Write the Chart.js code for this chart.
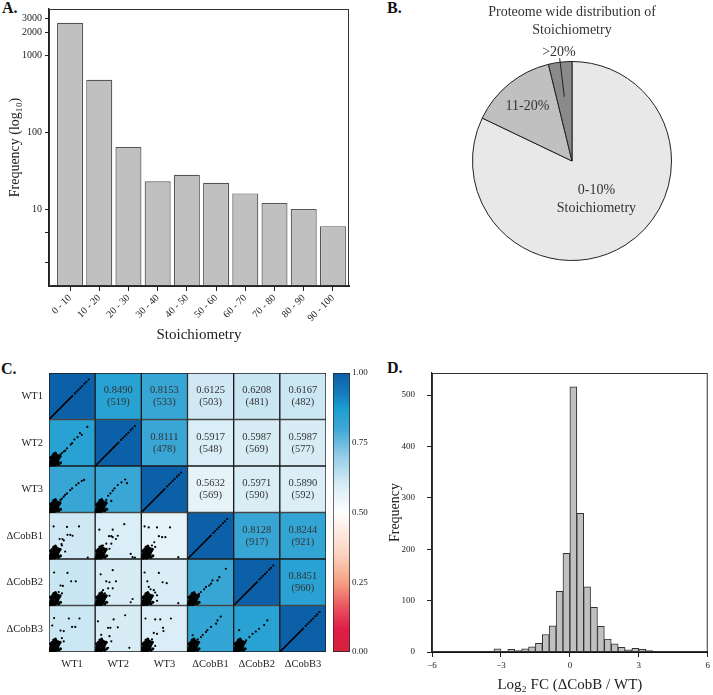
<!DOCTYPE html>
<html>
<head>
<meta charset="utf-8">
<script src="https://cdn.jsdelivr.net/npm/chart.js@4.4.1/dist/chart.umd.min.js"></script>
<style>
  body { margin: 0; background: #fff; width: 713px; height: 695px; position: relative; overflow: hidden; }
  canvas { position: absolute; }
  .tag { position: absolute; font: bold 16px "Liberation Serif", serif; line-height: 16px; color: #111; }
</style>
</head>
<body>
<div class="tag" style="left:2px;top:0px">A.</div>
<div class="tag" style="left:387px;top:0px">B.</div>
<div class="tag" style="left:1px;top:361px">C.</div>
<div class="tag" style="left:387px;top:360px">D.</div>

<canvas id="cA" width="360" height="345" style="left:0;top:0"></canvas>
<canvas id="cB" width="353" height="330" style="left:360px;top:0"></canvas>
<canvas id="cC" width="330" height="345" style="left:0;top:350px"></canvas>
<canvas id="cBar" width="40" height="345" style="left:333px;top:350px"></canvas>
<canvas id="cD" width="353" height="345" style="left:360px;top:350px"></canvas>

<script>
// --- A: stoichiometry bins (log scale) ---
const stoichBins = ['0 - 10', '10 - 20', '20 - 30', '30 - 40', '40 - 50', '50 - 60', '60 - 70', '70 - 80', '80 - 90', '90 - 100'];
const stoichFreq = [2650, 480, 64, 23, 28, 22, 16, 12, 10, 6];
const logTicks = [2, 5, 10, 100, 1000, 2000, 3000];
const logLabels = [10, 100, 1000, 2000, 3000];

// --- B: pie ---
const pieLabels = ['0-10%', '11-20%', '>20%'];
const pieShares = [82.1, 14.1, 3.8];

// --- C: correlation matrix ---
const samples = ['WT1', 'WT2', 'WT3', 'ΔCobB1', 'ΔCobB2', 'ΔCobB3'];
const corrValues = [
  [1, 0.8490, 0.8153, 0.6125, 0.6208, 0.6167],
  [0.8490, 1, 0.8111, 0.5917, 0.5987, 0.5987],
  [0.8153, 0.8111, 1, 0.5632, 0.5971, 0.5890],
  [0.6125, 0.5917, 0.5632, 1, 0.8128, 0.8244],
  [0.6208, 0.5987, 0.5971, 0.8128, 1, 0.8451],
  [0.6167, 0.5987, 0.5890, 0.8244, 0.8451, 1]
];
const pairCounts = [
  [null, 519, 533, 503, 481, 482],
  [null, null, 478, 548, 569, 577],
  [null, null, null, 569, 590, 592],
  [null, null, null, null, 917, 921],
  [null, null, null, null, null, 960],
  [null, null, null, null, null, null]
];
const colorbarTicks = [0, 0.25, 0.5, 0.75, 1];

// points inside each lower cell, as fractions of the cell (u right, v up)
const cellScatter = {
  '1,0': [[0.83,0.84],[0.67,0.71],[0.71,0.67],[0.62,0.62],[0.55,0.57],[0.50,0.49],[0.47,0.46],[0.39,0.38],[0.35,0.33],[0.32,0.31],[0.28,0.28],[0.25,0.25],[0.21,0.22]],
  '2,0': [[0.76,0.70],[0.71,0.68],[0.64,0.63],[0.59,0.59],[0.50,0.52],[0.46,0.48],[0.39,0.41],[0.35,0.38],[0.32,0.34],[0.28,0.30],[0.25,0.27]],
  '2,1': [[0.65,0.71],[0.69,0.63],[0.57,0.65],[0.49,0.59],[0.42,0.52],[0.38,0.47],[0.33,0.41],[0.28,0.36],[0.24,0.27],[0.35,0.25]],
  '3,0': [[0.10,0.70],[0.39,0.69],[0.65,0.70],[0.40,0.52],[0.46,0.52],[0.51,0.50],[0.23,0.43],[0.29,0.43],[0.32,0.40],[0.27,0.32],[0.28,0.29],[0.14,0.25],[0.35,0.16],[0.84,0.03]],
  '3,1': [[0.63,0.75],[0.09,0.63],[0.38,0.63],[0.30,0.49],[0.35,0.49],[0.38,0.47],[0.49,0.50],[0.45,0.43],[0.24,0.33],[0.35,0.33],[0.17,0.29],[0.31,0.22],[0.77,0.11],[0.81,0.04],[0.86,0.03]],
  '3,2': [[0.07,0.70],[0.16,0.68],[0.34,0.68],[0.62,0.68],[0.38,0.49],[0.45,0.47],[0.52,0.47],[0.28,0.36],[0.23,0.29],[0.30,0.26],[0.16,0.22],[0.80,0.04]],
  '4,0': [[0.11,0.71],[0.40,0.70],[0.48,0.52],[0.58,0.52],[0.25,0.43],[0.30,0.42],[0.21,0.29],[0.28,0.26]],
  '4,1': [[0.38,0.76],[0.12,0.67],[0.24,0.52],[0.31,0.50],[0.45,0.52],[0.38,0.37],[0.28,0.37],[0.17,0.33],[0.21,0.26],[0.81,0.14],[0.77,0.07],[0.31,0.21]],
  '4,2': [[0.07,0.71],[0.38,0.70],[0.46,0.50],[0.55,0.48],[0.13,0.52],[0.20,0.35],[0.27,0.33],[0.30,0.28],[0.34,0.22],[0.34,0.10],[0.80,0.05],[0.16,0.40]],
  '4,3': [[0.83,0.79],[0.69,0.61],[0.65,0.54],[0.54,0.54],[0.51,0.47],[0.47,0.43],[0.40,0.40],[0.36,0.35],[0.29,0.29],[0.25,0.25],[0.22,0.22],[0.14,0.16]],
  '5,0': [[0.11,0.73],[0.43,0.72],[0.66,0.72],[0.50,0.54],[0.57,0.54],[0.25,0.46],[0.32,0.45],[0.07,0.57],[0.28,0.30],[0.32,0.23]],
  '5,1': [[0.06,0.66],[0.40,0.70],[0.65,0.79],[0.28,0.52],[0.33,0.52],[0.49,0.53],[0.13,0.37],[0.31,0.34],[0.35,0.23],[0.74,0.09],[0.28,0.09]],
  '5,2': [[0.09,0.72],[0.30,0.70],[0.41,0.70],[0.64,0.72],[0.47,0.52],[0.48,0.45],[0.27,0.41],[0.34,0.39],[0.23,0.27],[0.13,0.20],[0.30,0.13]],
  '5,3': [[0.72,0.76],[0.65,0.68],[0.62,0.61],[0.51,0.54],[0.43,0.47],[0.40,0.43],[0.33,0.37],[0.29,0.32],[0.22,0.27],[0.18,0.22],[0.11,0.36]],
  '5,4': [[0.73,0.68],[0.66,0.58],[0.55,0.50],[0.48,0.44],[0.41,0.39],[0.34,0.32],[0.27,0.25],[0.19,0.18],[0.12,0.47]]
};
// dense cluster near the origin seen in every off-diagonal cell
const blobPts = [[0.02,0.02],[0.05,0.02],[0.08,0.03],[0.11,0.02],[0.14,0.03],[0.17,0.05],[0.03,0.06],[0.07,0.07],[0.10,0.06],[0.13,0.08],[0.16,0.10],[0.19,0.09],[0.04,0.10],[0.08,0.11],[0.11,0.13],[0.15,0.14],[0.20,0.14],[0.05,0.15],[0.09,0.17],[0.13,0.18],[0.17,0.19],[0.22,0.18],[0.07,0.21],[0.12,0.22],[0.16,0.24],[0.20,0.22],[0.10,0.26],[0.24,0.21],[0.03,0.18],[0.21,0.04],[0.25,0.07],[0.14,0.28]];
// identity cells: solid run then sparse dots
const diagRun = [[0.01,0.01],[0.52,0.52]];
const diagDots = [[0.56,0.56],[0.60,0.60],[0.64,0.64],[0.68,0.68],[0.72,0.72],[0.77,0.77],[0.81,0.81],[0.86,0.86]];

// --- D: log2 fold change histogram ---
const fcBinWidth = 0.3;
const fcBinStart = [-4.8,-4.5,-3.9,-3.6,-3.3,-2.7,-2.4,-2.1,-1.8,-1.5,-1.2,-0.9,-0.6,-0.3,0,0.3,0.6,0.9,1.2,1.5,1.8,2.1,2.4,2.7,3.0,3.3,3.9,4.2,4.5,5.1,5.7];
const fcCounts   = [1,1,1,2,6,5,3,6,10,17,34,51,118,192,516,270,127,87,50,25,16,9,4,7,5,3,1,1,1,1,1];
const fcTicksX = [-6, -3, 0, 3, 6];
const fcTicksY = [0, 100, 200, 300, 400, 500];

// colour scale used by panel C
const colorStops = [
  [0.00, [210, 36, 58]], [0.08, [224, 28, 72]], [0.15, [234, 74, 92]], [0.25, [245, 160, 130]],
  [0.35, [251, 211, 192]], [0.50, [255, 255, 255]], [0.60, [215, 236, 246]], [0.70, [150, 205, 232]],
  [0.80, [62, 168, 214]], [0.87, [30, 158, 210]], [0.93, [20, 122, 190]], [1.00, [12, 96, 168]]
];
function corrColor(v) {
  for (let k = 1; k < colorStops.length; k++) {
    const [a, ca] = colorStops[k - 1], [b, cb] = colorStops[k];
    if (v <= b) {
      const t = (v - a) / (b - a);
      const c = ca.map((x, i) => Math.round(x + (cb[i] - x) * t));
      return `rgb(${c[0]},${c[1]},${c[2]})`;
    }
  }
  const c = colorStops[colorStops.length - 1][1];
  return `rgb(${c[0]},${c[1]},${c[2]})`;
}

Chart.defaults.font.family = '"Liberation Serif", "Times New Roman", serif';
Chart.defaults.color = '#222';
Chart.defaults.animation = false;
Chart.defaults.responsive = false;
Chart.defaults.plugins.legend.display = false;
Chart.defaults.plugins.tooltip.enabled = false;

const framePlugin = {
  id: 'frame',
  afterDraw(chart, args, opts) {
    const { ctx, chartArea: a } = chart;
    ctx.save();
    ctx.strokeStyle = opts.color || '#333';
    ctx.lineWidth = opts.width || 1;
    ctx.strokeRect(a.left + 0.5, a.top + 0.5, a.right - a.left - 1, a.bottom - a.top - 1);
    ctx.restore();
  }
};

// ---------- A ----------
new Chart(document.getElementById('cA'), {
  type: 'bar',
  data: {
    datasets: [{
      data: stoichFreq.map((v, i) => ({ x: i, y: v })),
      backgroundColor: '#c0c0c0',
      borderColor: '#555',
      borderWidth: 1.2,
      barPercentage: 0.89,
      categoryPercentage: 1
    }]
  },
  options: {
    layout: { padding: { top: 6, right: 11, left: 0, bottom: 0 } },
    plugins: { frame: { color: '#333', width: 1 } },
    scales: {
      x: {
        type: 'linear', min: -0.72, max: 9.55, offset: false,
        afterBuildTicks: s => { s.ticks = stoichBins.map((_, i) => ({ value: i })); },
        afterFit: s => { s.height = 59; },
        ticks: { callback: v => stoichBins[v], minRotation: 45, maxRotation: 45, autoSkip: false, font: { size: 10 }, padding: 1 },
        grid: { drawOnChartArea: false, offset: false, tickLength: 5, color: '#222' },
        border: { color: '#222', width: 2 },
        title: { display: true, text: 'Stoichiometry', font: { size: 15 }, color: '#222', padding: { top: 0, bottom: 1 } }
      },
      y: {
        type: 'logarithmic', min: 1, max: 4000,
        afterBuildTicks: s => { s.ticks = logTicks.map(v => ({ value: v })); },
        afterFit: s => { s.width = 49; },
        ticks: { callback: v => logLabels.includes(v) ? String(v) : '', font: { size: 10 }, padding: 3, autoSkip: false },
        grid: { drawOnChartArea: false, tickLength: 4, color: '#222' },
        border: { color: '#222', width: 1.5 },
        title: { display: true, text: 'Frequency (log₁₀)', font: { size: 14 }, color: '#222', padding: { top: 7, bottom: 0 } }
      }
    }
  },
  plugins: [framePlugin]
});

// ---------- B ----------
const pieTextPlugin = {
  id: 'pieText',
  afterDatasetsDraw(chart) {
    const { ctx } = chart;
    const arcs = chart.getDatasetMeta(0).data;
    const place = [
      { r: 0.46, lines: ['0-10%', 'Stoichiometry'] },
      { r: 0.71, lines: ['11-20%'] },
      { r: 1.1, lines: ['>20%'], leader: [1.04, 0.65] }
    ];
    ctx.save();
    ctx.fillStyle = '#333';
    ctx.font = '14px "Liberation Serif", serif';
    ctx.textAlign = 'center';
    ctx.textBaseline = 'middle';
    arcs.forEach((arc, i) => {
      const p = arc.getProps(['x', 'y', 'startAngle', 'endAngle', 'outerRadius']);
      const mid = (p.startAngle + p.endAngle) / 2;
      const f = place[i];
      const cx = p.x + Math.cos(mid) * p.outerRadius * f.r;
      const cy = p.y + Math.sin(mid) * p.outerRadius * f.r;
      const lh = 18;
      f.lines.forEach((t, k) => ctx.fillText(t, cx, cy + (k - (f.lines.length - 1) / 2) * lh));
      if (f.leader) {
        ctx.strokeStyle = '#222';
        ctx.lineWidth = 1;
        ctx.beginPath();
        ctx.moveTo(p.x + Math.cos(mid) * p.outerRadius * f.leader[0], p.y + Math.sin(mid) * p.outerRadius * f.leader[0]);
        ctx.lineTo(p.x + Math.cos(mid) * p.outerRadius * f.leader[1], p.y + Math.sin(mid) * p.outerRadius * f.leader[1]);
        ctx.stroke();
      }
    });
    ctx.restore();
  }
};

new Chart(document.getElementById('cB'), {
  type: 'pie',
  data: {
    labels: pieLabels,
    datasets: [{
      data: pieShares,
      backgroundColor: ['#e8e8e8', '#c0c0c0', '#8a8a8a'],
      borderColor: '#222',
      borderWidth: 1
    }]
  },
  options: {
    layout: { padding: { left: 112, right: 41, top: 0, bottom: 69 } },
    plugins: {
      title: {
        display: true,
        text: ['Proteome wide distribution of', 'Stoichiometry'],
        font: { size: 14, weight: 'normal', lineHeight: 1.3 },
        color: '#333',
        padding: { top: 3, bottom: 21.6 }
      }
    }
  },
  plugins: [pieTextPlugin]
});

// ---------- C ----------
const cellData = [], cellColors = [];
samples.forEach((rowName, i) => samples.forEach((colName, j) => {
  cellData.push({ x: j + 0.5, y: [5 - i, 6 - i] });
  cellColors.push(corrColor(corrValues[i][j]));
}));
const toPlot = (i, j, uv) => ({ x: j + uv[0], y: 5 - i + uv[1] });
const scatterPts = [], blobData = [];
Object.keys(cellScatter).forEach(key => {
  const [i, j] = key.split(',').map(Number);
  cellScatter[key].forEach(uv => scatterPts.push(toPlot(i, j, uv)));
  blobPts.forEach(uv => blobData.push(toPlot(i, j, uv)));
});
const diagSets = samples.map((_, k) => ({
  type: 'line',
  data: diagRun.map(uv => toPlot(k, k, uv)),
  borderColor: '#000', borderWidth: 1.6, pointRadius: 0, order: 1
}));
samples.forEach((_, k) => diagDots.forEach(uv => scatterPts.push(toPlot(k, k, uv))));

const cellTextPlugin = {
  id: 'cellText',
  afterDatasetsDraw(chart) {
    const { ctx } = chart;
    const meta = chart.getDatasetMeta(0);
    ctx.save();
    ctx.fillStyle = '#333';
    ctx.font = '10.5px "Liberation Serif", serif';
    ctx.textAlign = 'center';
    ctx.textBaseline = 'middle';
    samples.forEach((r, i) => samples.forEach((c, j) => {
      if (j <= i) return;
      const el = meta.data[i * samples.length + j];
      const pt = el.getCenterPoint();
      ctx.fillText(corrValues[i][j].toFixed(4), pt.x, pt.y - 6);
      ctx.fillText('(' + pairCounts[i][j] + ')', pt.x, pt.y + 6);
    }));
    ctx.restore();
  }
};

new Chart(document.getElementById('cC'), {
  type: 'bar',
  data: {
    datasets: [
      {
        data: cellData,
        backgroundColor: cellColors,
        borderColor: '#1a1a1a',
        borderWidth: 1,
        borderSkipped: false,
        barPercentage: 1,
        categoryPercentage: 1,
        order: 5
      },
      { type: 'scatter', data: scatterPts, pointRadius: 1.1, pointBackgroundColor: '#000', pointBorderWidth: 0, order: 1 },
      { type: 'scatter', data: blobData, pointRadius: 1.5, pointBackgroundColor: '#000', pointBorderWidth: 0, order: 1 },
      ...diagSets
    ]
  },
  options: {
    layout: { padding: { top: 23, right: 4, left: 0, bottom: 0 } },
    scales: {
      x: {
        type: 'linear', min: 0, max: 6, offset: false,
        afterBuildTicks: s => { s.ticks = samples.map((_, j) => ({ value: j + 0.5 })); },
        afterFit: s => { s.height = 43; },
        ticks: { callback: v => samples[Math.round(v - 0.5)], autoSkip: false, maxRotation: 0, font: { size: 10.5 }, padding: 6 },
        grid: { display: false, drawTicks: false, offset: false },
        border: { display: false }
      },
      y: {
        type: 'linear', min: 0, max: 6,
        afterBuildTicks: s => { s.ticks = samples.map((_, i) => ({ value: i + 0.5 })); },
        afterFit: s => { s.width = 49; },
        ticks: { callback: v => samples[Math.round(5.5 - v)], autoSkip: false, font: { size: 10.5 }, padding: 6 },
        grid: { display: false, drawTicks: false },
        border: { display: false }
      }
    }
  },
  plugins: [cellTextPlugin]
});

// colour bar
new Chart(document.getElementById('cBar'), {
  type: 'bar',
  data: {
    labels: ['r'],
    datasets: [{
      data: [[0, 1]],
      backgroundColor: c => {
        const chart = c.chart;
        if (!chart.chartArea) return '#fff';
        const y = chart.scales.y;
        const g = chart.ctx.createLinearGradient(0, y.getPixelForValue(0), 0, y.getPixelForValue(1));
        colorStops.forEach(s => g.addColorStop(s[0], `rgb(${s[1].join(',')})`));
        return g;
      },
      borderColor: '#222',
      borderWidth: 1,
      borderSkipped: false,
      barPercentage: 1,
      categoryPercentage: 1
    }]
  },
  options: {
    layout: { padding: { top: 23, bottom: 43, left: 0, right: 0 } },
    scales: {
      x: { display: false },
      y: {
        position: 'right', min: 0, max: 1,
        afterBuildTicks: s => { s.ticks = colorbarTicks.map(v => ({ value: v })); },
        afterFit: s => { s.width = 23; },
        ticks: { callback: v => v.toFixed(2), font: { size: 9 }, padding: 2 },
        grid: { display: false, drawTicks: false },
        border: { display: false }
      }
    }
  }
});

// ---------- D ----------
new Chart(document.getElementById('cD'), {
  type: 'bar',
  data: {
    datasets: [{
      data: fcBinStart.map((s, i) => ({ x: s + fcBinWidth / 2, y: fcCounts[i] })),
      backgroundColor: '#c0c0c0',
      borderColor: '#333',
      borderWidth: 1,
      borderSkipped: 'start',
      barPercentage: 1,
      categoryPercentage: 1
    }]
  },
  options: {
    layout: { padding: { top: 23, right: 3, left: 0, bottom: 0 } },
    plugins: { frame: { color: '#333', width: 1 } },
    scales: {
      x: {
        type: 'linear', min: -6, max: 6, offset: false,
        afterBuildTicks: s => { s.ticks = fcTicksX.map(v => ({ value: v })); },
        afterFit: s => { s.height = 43; },
        ticks: { callback: v => (v < 0 ? '−' + Math.abs(v) : String(v)), maxRotation: 0, font: { size: 9 }, padding: 3 },
        grid: { drawOnChartArea: false, offset: false, tickLength: 5, color: '#222' },
        border: { color: '#111', width: 2 },
        title: { display: true, text: 'Log₂ FC (ΔCobB / WT)', font: { size: 15 }, color: '#222', padding: { top: 0, bottom: 1 } }
      },
      y: {
        type: 'linear', min: 0, max: 543,
        afterBuildTicks: s => { s.ticks = fcTicksY.map(v => ({ value: v })); },
        afterFit: s => { s.width = 72; },
        ticks: { font: { size: 9 }, padding: 12 },
        grid: { drawOnChartArea: false, tickLength: 5, color: '#222' },
        border: { color: '#222', width: 1.2 },
        title: { display: true, text: 'Frequency', font: { size: 14 }, color: '#222', padding: { top: 27, bottom: 0 } }
      }
    }
  },
  plugins: [framePlugin]
});
</script>
</body>
</html>
